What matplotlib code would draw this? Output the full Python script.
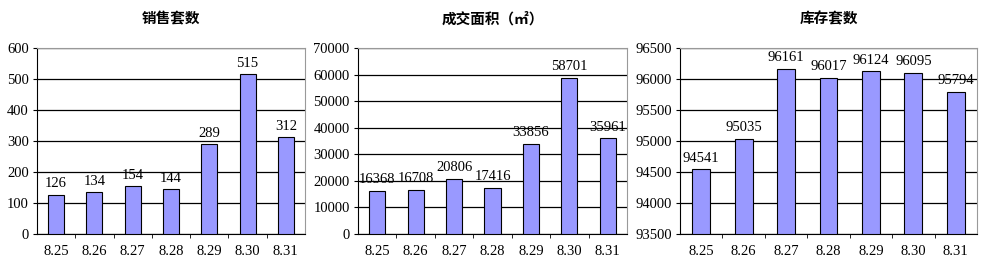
import matplotlib
matplotlib.use("Agg")
import matplotlib.pyplot as plt
import numpy as np

plt.rcParams['font.family'] = ['Noto Sans CJK SC', 'DejaVu Sans']

dates = ['8.25', '8.26', '8.27', '8.28', '8.29', '8.30', '8.31']
sales = [126, 134, 154, 144, 289, 515, 312]
area = [16368, 16708, 20806, 17416, 33856, 58701, 35961]
stock = [94541, 95035, 96161, 96017, 96124, 96095, 95794]

titles = ['销售套数', '成交面积（㎡）', '库存套数']
ylims = [(0, 600, 100), (0, 70000, 10000), (93500, 96500, 500)]
boxes = [(0.037, 0.305), (0.358, 0.627), (0.680, 0.977)]

fig = plt.figure(figsize=(10, 2.67), dpi=100)
num_font = ['Liberation Serif', 'DejaVu Serif']

for vals, title, (lo, hi, step), (x0, x1) in zip([sales, area, stock], titles, ylims, boxes):
    ax = fig.add_axes([x0, 1 - 234 / 267, x1 - x0, (234 - 48) / 267])
    x = np.arange(len(dates))
    ax.bar(x, np.array(vals) - lo, bottom=lo, width=0.42, color='#9999ff',
           edgecolor='black', linewidth=0.8, zorder=3)
    ax.set_ylim(lo, hi)
    ax.set_xlim(-0.5, len(dates) - 0.5)
    ax.set_yticks(np.arange(lo, hi + 1, step))
    ax.yaxis.grid(True, color='black', linewidth=0.9, zorder=1)
    ax.set_xticks(x)
    ax.set_xticklabels(dates, family=num_font, fontsize=10.5)
    ax.set_xticks(np.arange(0.5, len(dates) - 0.5, 1), minor=True)
    ax.tick_params(axis='x', which='major', length=0, pad=8)
    ax.tick_params(axis='x', which='minor', length=3, direction='out')
    ax.tick_params(axis='y', length=3, direction='out', labelsize=10.5, pad=3)
    for lab in ax.get_yticklabels():
        lab.set_family(num_font)
    for s in ['top', 'right']:
        ax.spines[s].set_color('#999999')
        ax.spines[s].set_linewidth(0.8)
    ax.spines['left'].set_color('black')
    ax.spines['bottom'].set_color('black')
    for xi, v in zip(x, vals):
        ax.text(xi, v + (hi - lo) * 0.025, str(v), ha='center', va='bottom',
                family=num_font, fontsize=10.5)
    fig.text((x0 + x1) / 2, 0.9, title, ha='center', va='bottom',
             fontsize=10.5, fontweight='bold')

fig.savefig('out.png', dpi=100)
